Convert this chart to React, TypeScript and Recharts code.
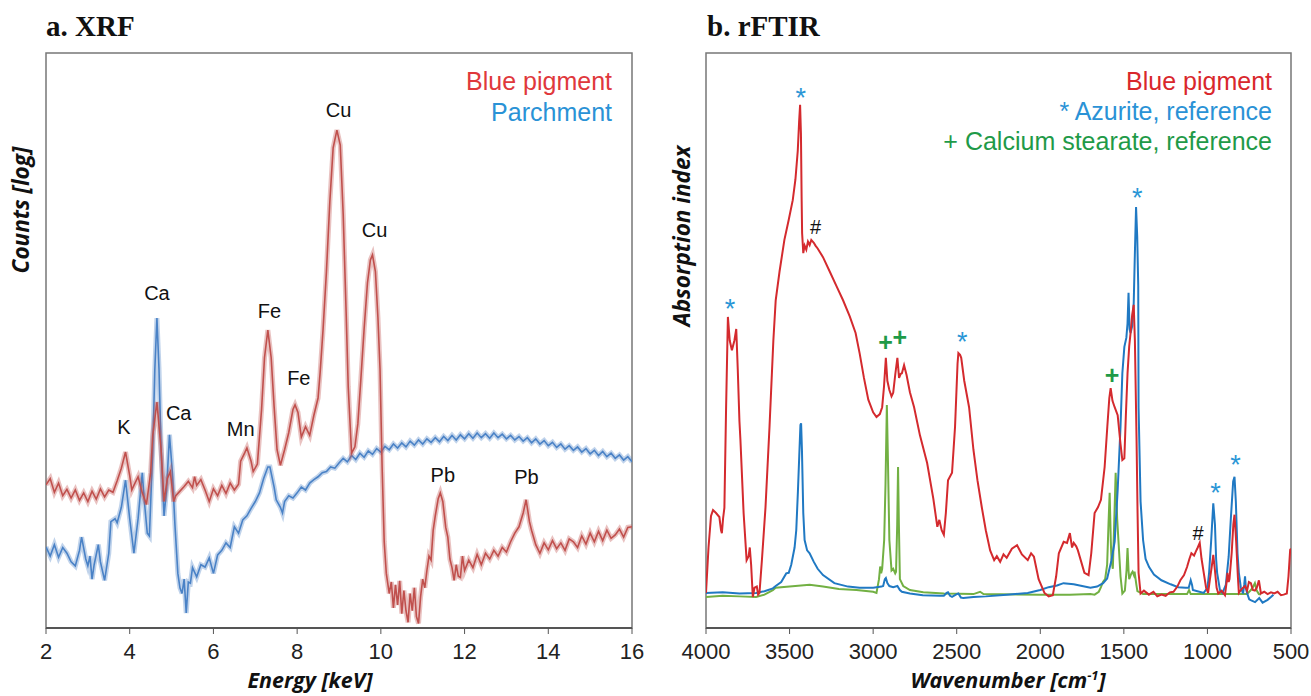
import React from 'react';
import {
  ComposedChart,
  Line,
  Scatter,
  XAxis,
  YAxis,
  ReferenceArea,
} from 'recharts';

// ---- XRF (energy keV, relative log counts) ----
const xrfPigment: [number, number][] = [
  [2.0, 24.9], [2.1, 26.0], [2.2, 23.6], [2.3, 25.2], [2.4, 23.0], [2.5, 24.1], [2.6, 22.6], [2.7, 24.0],
  [2.8, 22.2], [2.9, 23.5], [3.0, 22.0], [3.1, 23.8], [3.2, 22.4], [3.3, 24.2], [3.4, 22.8], [3.5, 24.0],
  [3.6, 23.6], [3.7, 25.6], [3.8, 27.8], [3.9, 30.6], [4.0, 26.5], [4.05, 24.0], [4.1, 24.8], [4.2, 26.3],
  [4.3, 23.5], [4.4, 21.5], [4.5, 27.0], [4.55, 33.5], [4.65, 39.3], [4.75, 31.0], [4.82, 22.0], [4.9, 26.0],
  [4.97, 27.2], [5.05, 22.0], [5.1, 23.0], [5.2, 23.8], [5.3, 24.6], [5.4, 25.5], [5.5, 24.4], [5.55, 26.3],
  [5.6, 24.8], [5.7, 25.8], [5.8, 24.0], [5.9, 22.0], [6.0, 24.2], [6.1, 23.0], [6.2, 24.8], [6.3, 23.4],
  [6.4, 25.2], [6.5, 24.0], [6.6, 25.0], [6.65, 29.0], [6.75, 30.5], [6.8, 31.3], [6.9, 29.0], [6.95, 27.2],
  [7.05, 28.5], [7.15, 38.0], [7.22, 47.0], [7.3, 51.8], [7.38, 47.0], [7.45, 38.5], [7.52, 31.0], [7.6, 28.3],
  [7.7, 31.0], [7.8, 34.0], [7.9, 38.0], [7.95, 38.8], [8.02, 37.5], [8.1, 33.2], [8.2, 35.0], [8.3, 33.5],
  [8.4, 37.0], [8.5, 40.0], [8.55, 44.5], [8.62, 52.0], [8.7, 62.0], [8.78, 74.0], [8.86, 83.5], [8.95, 86.6],
  [9.03, 84.0], [9.1, 72.0], [9.17, 55.0], [9.22, 42.0], [9.3, 30.4], [9.38, 31.5], [9.45, 35.5], [9.52, 43.0],
  [9.6, 52.0], [9.68, 60.0], [9.75, 64.0], [9.8, 64.9], [9.87, 62.0], [9.93, 54.0], [9.98, 45.0], [10.03, 28.0],
  [10.08, 15.0], [10.13, 9.5], [10.2, 6.0], [10.25, 8.0], [10.3, 3.5], [10.35, 7.5], [10.4, 4.0], [10.45, 8.2],
  [10.5, 2.5], [10.55, 6.5], [10.6, 3.0], [10.65, 1.0], [10.7, 6.0], [10.75, 3.0], [10.8, 7.0], [10.85, 2.0],
  [10.9, 0.8], [10.95, 5.5], [11.0, 8.5], [11.05, 7.0], [11.1, 10.0], [11.15, 12.5], [11.2, 11.8], [11.25, 17.0],
  [11.3, 19.5], [11.37, 22.5], [11.42, 23.5], [11.48, 22.0], [11.55, 17.5], [11.6, 15.8], [11.65, 12.0], [11.7, 10.5],
  [11.75, 8.3], [11.8, 11.0], [11.85, 9.0], [11.9, 8.8], [11.95, 12.5], [12.0, 10.0], [12.1, 11.8], [12.2, 10.5],
  [12.3, 12.8], [12.4, 11.0], [12.5, 13.0], [12.6, 12.0], [12.7, 13.5], [12.8, 12.5], [12.9, 14.0], [13.0, 13.2],
  [13.1, 15.0], [13.2, 16.5], [13.3, 17.6], [13.4, 20.0], [13.47, 22.3], [13.55, 18.5], [13.6, 17.0], [13.7, 14.5],
  [13.8, 13.0], [13.9, 14.8], [14.0, 13.6], [14.1, 15.2], [14.2, 13.8], [14.3, 14.8], [14.4, 13.5], [14.5, 15.5],
  [14.6, 15.0], [14.7, 14.0], [14.8, 16.0], [14.9, 14.6], [15.0, 16.5], [15.1, 15.0], [15.2, 16.8], [15.3, 15.2],
  [15.4, 17.0], [15.5, 15.6], [15.6, 16.2], [15.7, 17.2], [15.8, 15.8], [15.9, 17.5], [16.0, 17.6],
];

const xrfParchment: [number, number][] = [
  [2.0, 14.1], [2.1, 12.5], [2.2, 14.5], [2.3, 12.3], [2.4, 14.0], [2.5, 13.0], [2.6, 11.5], [2.7, 10.8],
  [2.8, 13.5], [2.85, 15.8], [2.95, 12.0], [3.0, 10.8], [3.05, 12.5], [3.1, 8.5], [3.15, 11.0], [3.25, 14.5],
  [3.3, 11.5], [3.4, 8.3], [3.5, 13.0], [3.55, 18.5], [3.65, 19.0], [3.7, 18.3], [3.8, 21.0], [3.9, 25.7],
  [4.0, 19.0], [4.1, 13.0], [4.2, 19.0], [4.3, 27.0], [4.35, 22.0], [4.42, 16.5], [4.47, 16.0], [4.55, 31.0],
  [4.6, 45.0], [4.65, 53.9], [4.7, 45.0], [4.75, 31.0], [4.82, 19.5], [4.88, 24.0], [4.95, 33.6], [5.02, 27.0],
  [5.08, 18.0], [5.15, 9.5], [5.2, 7.0], [5.25, 6.0], [5.3, 8.5], [5.35, 2.6], [5.4, 8.0], [5.45, 7.8],
  [5.5, 10.5], [5.6, 8.9], [5.7, 11.0], [5.8, 10.6], [5.9, 12.2], [6.0, 9.5], [6.1, 12.7], [6.2, 13.5],
  [6.3, 14.8], [6.4, 14.0], [6.5, 17.6], [6.6, 16.5], [6.7, 18.8], [6.8, 19.5], [6.9, 20.8], [7.0, 22.0],
  [7.1, 23.5], [7.2, 26.0], [7.3, 28.0], [7.35, 28.0], [7.45, 24.5], [7.5, 22.3], [7.6, 21.0], [7.65, 20.0],
  [7.7, 22.0], [7.8, 23.0], [7.9, 22.6], [8.0, 23.5], [8.1, 24.5], [8.2, 24.0], [8.3, 25.2], [8.4, 25.8],
  [8.5, 26.3], [8.6, 27.0], [8.7, 27.2], [8.8, 28.0], [8.9, 27.8], [9.0, 28.7], [9.1, 29.5], [9.2, 28.9],
  [9.3, 30.0], [9.4, 29.3], [9.5, 30.4], [9.6, 29.7], [9.7, 30.8], [9.8, 30.2], [9.9, 31.2], [10.0, 30.6],
  [10.1, 31.6], [10.2, 31.0], [10.3, 32.0], [10.4, 31.3], [10.5, 32.2], [10.6, 31.5], [10.7, 32.5], [10.8, 31.8],
  [10.9, 32.7], [11.0, 32.0], [11.1, 32.9], [11.2, 32.3], [11.3, 33.1], [11.4, 32.4], [11.5, 33.3], [11.6, 32.6],
  [11.7, 33.5], [11.8, 32.7], [11.9, 33.6], [12.0, 32.9], [12.1, 33.8], [12.2, 33.0], [12.3, 33.9], [12.4, 33.1],
  [12.5, 33.8], [12.6, 33.0], [12.7, 33.9], [12.8, 33.1], [12.9, 33.7], [13.0, 32.9], [13.1, 33.5], [13.2, 32.7],
  [13.3, 33.3], [13.4, 32.5], [13.5, 33.1], [13.6, 32.2], [13.7, 32.9], [13.8, 32.0], [13.9, 32.6], [14.0, 31.7],
  [14.1, 32.3], [14.2, 31.4], [14.3, 32.0], [14.4, 31.1], [14.5, 31.7], [14.6, 30.9], [14.7, 31.5], [14.8, 30.6],
  [14.9, 31.2], [15.0, 30.3], [15.1, 30.9], [15.2, 30.0], [15.3, 30.7], [15.4, 29.8], [15.5, 30.4], [15.6, 29.5],
  [15.7, 30.1], [15.8, 29.2], [15.9, 29.8], [16.0, 28.9],
];

const xrfPeakLabels = [
  { x: 3.86, y: 35.0, text: 'K' },
  { x: 4.65, y: 58.3, text: 'Ca' },
  { x: 5.17, y: 37.4, text: 'Ca' },
  { x: 6.65, y: 34.6, text: 'Mn' },
  { x: 7.34, y: 55.2, text: 'Fe' },
  { x: 8.04, y: 43.5, text: 'Fe' },
  { x: 8.99, y: 90.1, text: 'Cu' },
  { x: 9.85, y: 69.2, text: 'Cu' },
  { x: 11.48, y: 26.6, text: 'Pb' },
  { x: 13.48, y: 26.3, text: 'Pb' },
];

const energyTicks = [2, 4, 6, 8, 10, 12, 14, 16];

// ---- rFTIR (wavenumber cm-1, absorption index) ----
const ftirPigment: [number, number][] = [
  [4000, 6.1], [3985, 14], [3970, 19.5], [3958, 20.5], [3940, 20], [3920, 19.3], [3910, 17], [3905, 16.5],
  [3898, 19], [3890, 20.9], [3880, 38], [3869, 54.1], [3858, 50], [3845, 48.3], [3830, 50], [3819, 52],
  [3810, 45], [3800, 36], [3794, 32.7], [3775, 20], [3757, 11.8], [3745, 12.5], [3738, 14], [3730, 11],
  [3720, 5.4], [3710, 7], [3696, 7.2], [3688, 5.8], [3680, 6.1], [3665, 12], [3644, 21], [3620, 35],
  [3597, 50], [3583, 57], [3560, 62], [3531, 67.5], [3505, 71], [3481, 74.4], [3465, 78], [3451, 83],
  [3443, 88], [3437, 91], [3432, 86], [3428, 75], [3425, 68.7], [3418, 65.2], [3410, 66.5], [3400, 65.8],
  [3390, 67.2], [3380, 66.6], [3370, 67.5], [3355, 67], [3345, 66.5], [3332, 66], [3300, 64.5], [3255, 61.7],
  [3220, 59.5], [3180, 57], [3140, 54.2], [3105, 51.3], [3081, 47.8], [3055, 43.5], [3029, 39.7], [3000, 37.5],
  [2980, 36.7], [2960, 37.2], [2946, 38.4], [2935, 42], [2924, 47], [2915, 43], [2903, 41.4], [2890, 40.3],
  [2880, 40.9], [2868, 44], [2855, 47], [2845, 43.5], [2835, 44.2], [2828, 44.3], [2815, 45.7], [2800, 44],
  [2780, 41], [2755, 38.4], [2720, 33.5], [2677, 28.7], [2640, 22.5], [2616, 17.6], [2604, 18.8], [2590, 17],
  [2577, 16.2], [2565, 20], [2552, 25.7], [2528, 27], [2510, 35], [2495, 46], [2490, 47.8], [2480, 47.5],
  [2473, 47], [2455, 43], [2426, 38.4], [2400, 31], [2376, 25.7], [2350, 21], [2326, 17], [2300, 13.5],
  [2276, 11.8], [2260, 12.5], [2240, 11.5], [2220, 12.8], [2201, 12.2], [2170, 13.8], [2139, 14.4], [2110, 12.8],
  [2075, 11.8], [2055, 13], [2038, 12.4], [2010, 8.5], [1975, 6.1], [1950, 5.5], [1925, 5.7], [1905, 9],
  [1889, 13], [1860, 15], [1840, 14.8], [1823, 16.5], [1810, 14], [1800, 14.8], [1785, 14.2], [1775, 13.5],
  [1755, 11.5], [1736, 9.6], [1711, 9.2], [1695, 13], [1675, 20], [1655, 21], [1637, 22.3], [1615, 28],
  [1599, 35], [1587, 40], [1579, 41.7], [1568, 39.5], [1555, 38.4], [1537, 37], [1520, 32], [1509, 29.2],
  [1497, 29.5], [1488, 37], [1478, 44.3], [1468, 49], [1460, 51.3], [1450, 54.5], [1441, 56.2], [1434, 50],
  [1424, 32.7], [1418, 20], [1412, 9.6], [1400, 6], [1380, 6.5], [1350, 5.8], [1323, 6.3], [1300, 5.5],
  [1275, 5.8], [1250, 5.6], [1225, 6.2], [1203, 6.3], [1180, 7.2], [1162, 8.3], [1140, 9.2], [1122, 10.6],
  [1108, 12], [1096, 13], [1080, 12.6], [1071, 13.2], [1058, 14], [1046, 14.8], [1035, 12], [1022, 9.6],
  [1008, 7], [996, 6.1], [985, 8.5], [975, 10.5], [965, 12.7], [955, 10], [945, 7], [935, 6],
  [915, 6.5], [895, 5.7], [885, 8], [880, 9.6], [873, 8], [868, 8.5], [855, 13], [845, 18],
  [838, 19.7], [828, 15], [818, 9], [812, 6.1], [795, 6.8], [775, 7.3], [763, 6.5], [752, 8],
  [740, 7.8], [728, 6.6], [716, 6.5], [705, 7], [692, 8.3], [680, 6], [660, 6.3], [640, 5.9],
  [620, 6.2], [600, 6.0], [580, 6.3], [560, 5.7], [544, 5.8], [525, 6], [515, 9], [505, 13.6], [500, 13.8],
];

const ftirAzurite: [number, number][] = [
  [4000, 6.1], [3900, 6.2], [3800, 6.0], [3700, 6.1], [3650, 6.4], [3600, 6.9], [3583, 7.3], [3550, 8.0],
  [3520, 9.5], [3505, 9.6], [3490, 11.0], [3470, 14], [3460, 17], [3450, 23.8], [3442, 30], [3435, 35.3],
  [3431, 35.6], [3426, 31], [3418, 20], [3410, 15.3], [3395, 13.5], [3380, 13], [3355, 11.5], [3332, 10.3],
  [3300, 9.2], [3232, 7.8], [3150, 7.2], [3081, 7.0], [3000, 7.0], [2950, 7.2], [2940, 7.3], [2930, 8.5],
  [2924, 8.7], [2915, 7.8], [2903, 7.3], [2880, 7.1], [2855, 7.3], [2840, 6.6], [2828, 6.3], [2780, 6.0],
  [2703, 5.7], [2600, 5.6], [2577, 5.6], [2560, 6.1], [2552, 6.2], [2540, 5.6], [2528, 5.4], [2500, 5.9],
  [2490, 6.0], [2475, 5.3], [2460, 5.2], [2400, 5.4], [2326, 5.5], [2200, 5.8], [2075, 6.1], [2000, 6.6],
  [1950, 7.1], [1900, 7.4], [1861, 7.8], [1800, 7.6], [1750, 7.3], [1700, 7.0], [1660, 7.2], [1624, 7.8],
  [1600, 8.6], [1574, 11.8], [1555, 15], [1537, 24], [1520, 35], [1509, 44.3], [1497, 48.9], [1485, 50.5],
  [1478, 53], [1472, 58.3], [1466, 52], [1460, 51.3], [1450, 52.5], [1441, 56.5], [1435, 64], [1427, 73.2],
  [1420, 68], [1414, 59.5], [1412, 38.4], [1400, 22], [1385, 15.3], [1370, 12], [1349, 10.6], [1320, 9.3],
  [1275, 8.3], [1220, 7.6], [1175, 7.1], [1130, 7.0], [1112, 7.0], [1100, 8.3], [1092, 7.5], [1087, 6.6],
  [1060, 6.4], [1022, 6.1], [1000, 7.0], [990, 9.6], [978, 15], [965, 21.7], [955, 18], [948, 12],
  [942, 9.6], [925, 6.6], [910, 6.1], [890, 7.5], [873, 12.4], [860, 19], [846, 25.5], [838, 26.3],
  [830, 22], [820, 13], [812, 9.6], [800, 7.0], [787, 6.0], [780, 7.5], [775, 9.0], [770, 7.0],
  [763, 6.1], [750, 5.0], [738, 4.8], [715, 4.5], [690, 5.2], [670, 4.4], [640, 4.9], [620, 5.4], [605, 5.8],
];

const ftirStearate: [number, number][] = [
  [4000, 5.4], [3900, 5.6], [3800, 5.5], [3700, 5.4], [3650, 5.8], [3600, 6.6], [3583, 7.0], [3500, 7.2],
  [3380, 7.5], [3300, 7.2], [3205, 6.8], [3100, 6.6], [3000, 6.3], [2980, 6.1], [2965, 8.5], [2958, 10.7],
  [2952, 9.5], [2946, 10.3], [2934, 15.3], [2926, 25], [2918, 38.8], [2912, 30], [2903, 15.3], [2890, 10],
  [2880, 10.3], [2868, 9.5], [2863, 9.8], [2856, 18], [2851, 28], [2846, 18], [2840, 8.5], [2820, 7.3],
  [2780, 6.6], [2700, 6.2], [2577, 6.0], [2400, 5.9], [2360, 6.3], [2340, 5.9], [2000, 5.8], [1823, 5.8],
  [1700, 5.9], [1675, 5.8], [1650, 6.3], [1637, 7.1], [1625, 8], [1612, 8.5], [1600, 11], [1592, 18],
  [1585, 23.5], [1578, 15], [1574, 11.8], [1566, 10.3], [1558, 18], [1549, 27], [1540, 19], [1530, 14],
  [1520, 9], [1509, 6.0], [1494, 6.5], [1484, 10], [1478, 13.9], [1472, 10], [1468, 8.5], [1455, 9.5],
  [1448, 9.8], [1440, 9.2], [1436, 9.8], [1425, 7.5], [1419, 6.4], [1385, 5.9], [1122, 5.9], [1110, 6.6],
  [1100, 5.9], [900, 5.9], [763, 5.9], [740, 6.6], [728, 7.1], [716, 7.8], [705, 6.5], [692, 5.9], [680, 5.8],
];

const ftirMarks = [
  { x: 3856, y: 56.3, text: '*' },
  { x: 3433, y: 93.0, text: '*' },
  { x: 3345, y: 69.7, text: '#' },
  { x: 2926, y: 49.7, text: '+' },
  { x: 2840, y: 50.6, text: '+' },
  { x: 2467, y: 50.6, text: '*' },
  { x: 1571, y: 43.9, text: '+' },
  { x: 1420, y: 75.7, text: '*' },
  { x: 1056, y: 16.5, text: '#' },
  { x: 952, y: 24.3, text: '*' },
  { x: 832, y: 29.2, text: '*' },
];

const wavenumberTicks = [4000, 3500, 3000, 2500, 2000, 1500, 1000, 500];

const toPoints = (arr: [number, number][]) => arr.map(([x, y]) => ({ x, y }));

const SANS = '"Liberation Sans", Arial, sans-serif';
const TITLE_AXIS = '"Open Sans", "DejaVu Sans", sans-serif';

const markStyle: Record<string, { color: string; size: number; off: number; weight: number }> = {
  '*': { color: '#2a96d6', size: 27, off: 0.52, weight: 400 },
  '+': { color: '#1f9a48', size: 25, off: 0.34, weight: 700 },
  '#': { color: '#111', size: 20, off: 0.36, weight: 400 },
};

const renderPeakLabel = (props: any) => {
  const { cx, cy, payload } = props;
  return (
    <text x={cx} y={cy + 20 * 0.36} textAnchor="middle" fontSize={20} fontFamily={SANS} fill="#111">
      {payload.text}
    </text>
  );
};

const renderMark = (props: any) => {
  const { cx, cy, payload } = props;
  const s = markStyle[payload.text];
  return (
    <text
      x={cx}
      y={cy + s.size * s.off}
      textAnchor="middle"
      fontSize={s.size}
      fontWeight={s.weight}
      fontFamily={SANS}
      fill={s.color}
    >
      {payload.text}
    </text>
  );
};

const tickStyle = { fontSize: 22, fontFamily: SANS, fill: '#222' };

export default function App() {
  return (
    <div style={{ position: 'absolute', left: 0, top: 0, width: 1311, height: 696, background: '#fff' }}>
      {/* a. XRF */}
      <div style={{ position: 'absolute', left: 0, top: 0 }}>
        <ComposedChart width={660} height={696} margin={{ top: 53, right: 28, bottom: 28, left: 46 }}>
          <XAxis
            type="number"
            dataKey="x"
            domain={[2, 16]}
            ticks={energyTicks}
            allowDataOverflow
            height={40}
            tickSize={6}
            tickMargin={9}
            tick={tickStyle}
            axisLine={{ stroke: '#555', strokeWidth: 2 }}
            tickLine={{ stroke: '#555' }}
          />
          <YAxis type="number" dataKey="y" domain={[0, 100]} hide allowDataOverflow />
          <ReferenceArea x1={2} x2={16} y1={0} y2={100} fill="none" stroke="#777" strokeWidth={1.5} ifOverflow="visible" />
          <Line data={toPoints(xrfParchment)} dataKey="y" stroke="#4a82c6" strokeOpacity={0.35} strokeWidth={5} dot={false} isAnimationActive={false} />
          <Line data={toPoints(xrfParchment)} dataKey="y" stroke="#4a82c6" strokeWidth={1.6} dot={false} isAnimationActive={false} />
          <Line data={toPoints(xrfPigment)} dataKey="y" stroke="#c0504d" strokeOpacity={0.35} strokeWidth={5} dot={false} isAnimationActive={false} />
          <Line data={toPoints(xrfPigment)} dataKey="y" stroke="#c0504d" strokeWidth={1.6} dot={false} isAnimationActive={false} />
          <Scatter data={xrfPeakLabels} dataKey="y" shape={renderPeakLabel} isAnimationActive={false} />
        </ComposedChart>
      </div>

      {/* b. rFTIR */}
      <div style={{ position: 'absolute', left: 660, top: 0 }}>
        <ComposedChart width={651} height={696} margin={{ top: 53, right: 20, bottom: 28, left: 46 }}>
          <XAxis
            type="number"
            dataKey="x"
            domain={[500, 4000]}
            ticks={wavenumberTicks}
            reversed
            allowDataOverflow
            height={40}
            tickSize={6}
            tickMargin={9}
            tick={tickStyle}
            axisLine={{ stroke: '#555', strokeWidth: 2 }}
            tickLine={{ stroke: '#555' }}
          />
          <YAxis type="number" dataKey="y" domain={[0, 100]} hide allowDataOverflow />
          <ReferenceArea x1={500} x2={4000} y1={0} y2={100} fill="none" stroke="#777" strokeWidth={1.5} ifOverflow="visible" />
          <Line data={toPoints(ftirStearate)} dataKey="y" stroke="#72b043" strokeWidth={2} dot={false} isAnimationActive={false} />
          <Line data={toPoints(ftirAzurite)} dataKey="y" stroke="#2079c3" strokeWidth={2} dot={false} isAnimationActive={false} />
          <Line data={toPoints(ftirPigment)} dataKey="y" stroke="#d42a2e" strokeWidth={2} dot={false} isAnimationActive={false} />
          <Scatter data={ftirMarks} dataKey="y" shape={renderMark} isAnimationActive={false} />
        </ComposedChart>
      </div>

      {/* titles, legends, axis titles */}
      <svg width={1311} height={696} style={{ position: 'absolute', left: 0, top: 0, pointerEvents: 'none' }}>
        <text x={46} y={36} fontFamily='"Liberation Serif", "Times New Roman", serif' fontWeight={700} fontSize={29} fill="#111">
          a. XRF
        </text>
        <text x={707} y={36} fontFamily='"Liberation Serif", "Times New Roman", serif' fontWeight={700} fontSize={29} fill="#111">
          b. rFTIR
        </text>

        <g fontFamily={SANS} fontSize={25} textAnchor="end">
          <text x={612} y={90} fill="#e0383c">Blue pigment</text>
          <text x={612} y={121} fill="#2a92d6">Parchment</text>
          <text x={1272} y={90} fill="#d9272c">Blue pigment</text>
          <text x={1272} y={120} fill="#2a92d6">* Azurite, reference</text>
          <text x={1272} y={150} fill="#1f9a48">+ Calcium stearate, reference</text>
        </g>

        <g fontFamily={TITLE_AXIS} fontWeight={700} fontStyle="italic" fontSize={21.5} fill="#111" textAnchor="middle">
          <text x={310} y={688}>Energy [keV]</text>
          <text x={1008} y={688}>
            Wavenumber [cm<tspan dy={-8} fontSize={13}>-1</tspan><tspan dy={8}>]</tspan>
          </text>
        </g>
        <g fontFamily={TITLE_AXIS} fontWeight={700} fontStyle="italic" fontSize={22.5} fill="#111" textAnchor="middle">
          <text x={29} y={210} transform="rotate(-90 29 210)">Counts [log]</text>
          <text x={690} y={236} transform="rotate(-90 690 236)">Absorption index</text>
        </g>
      </svg>
    </div>
  );
}
